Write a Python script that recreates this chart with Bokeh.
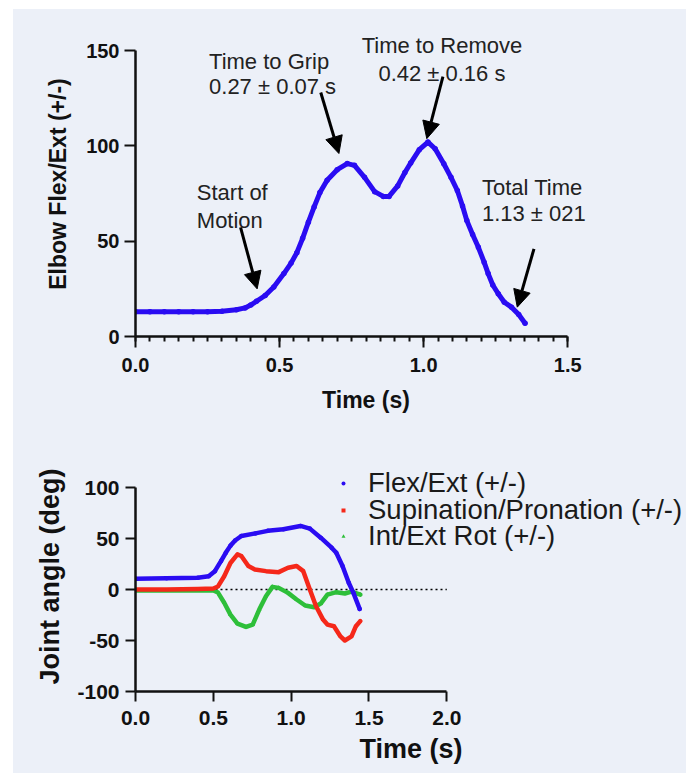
from bokeh.plotting import figure
from bokeh.layouts import column
from bokeh.models import (Range1d, FixedTicker, PrintfTickFormatter, Arrow, NormalHead,
                          Label, Legend, LegendItem)
from bokeh.embed import file_html
from bokeh.resources import INLINE

BG = "#ecf0f8"
FONT = "Liberation Sans"
INK = "#111111"

# ---------------- data: top panel (elbow flex/ext, deg) ----------------
elbow_time = [0.00, 0.05, 0.10, 0.15, 0.20, 0.25, 0.30, 0.35, 0.38, 0.40, 0.42, 0.45, 0.48,
              0.515, 0.54, 0.56, 0.58, 0.60, 0.62, 0.64, 0.665, 0.70, 0.735, 0.76, 0.795,
              0.83, 0.86, 0.88, 0.91, 0.935, 0.955, 0.985, 1.015, 1.04, 1.07, 1.095, 1.117,
              1.135, 1.15, 1.17, 1.19, 1.21, 1.224, 1.24, 1.259, 1.28, 1.305, 1.33, 1.352]
elbow_angle = [13, 13, 13, 13, 13, 13, 13.3, 14, 15, 16.5, 18.5, 21.5, 26,
               33, 38.5, 44, 51.5, 60, 68, 75.5, 82, 87.5, 90.7, 89.8, 83.5,
               76, 73.5, 73.5, 79, 86, 91, 98, 102, 98.5, 90.6, 83.5, 76.6,
               68.5, 60.8, 53.5, 46.8, 39, 33, 27, 22.4, 18, 15.4, 11.5, 7]
top_x_ticks = [0.0, 0.5, 1.0, 1.5]
top_y_ticks = [0, 50, 100, 150]

# annotation texts
ann_grip = ["Time to Grip", "0.27 \u00b1 0.07 s"]
ann_remove = ["Time to Remove", "0.42 \u00b1 0.16 s"]
ann_start = ["Start of", "Motion"]
ann_total = ["Total Time", "1.13 \u00b1 021"]

# ---------------- data: bottom panel (joint angles, deg) ----------------
flex_time = [0.0, 0.2, 0.4, 0.47, 0.51, 0.55, 0.58, 0.61, 0.64, 0.68, 0.77, 0.85, 0.95,
             1.06, 1.12, 1.19, 1.26, 1.29, 1.33, 1.37, 1.40, 1.44]
flex_angle = [10.5, 11, 11.5, 13, 18, 28, 36, 43, 48, 52.5, 55, 57.5, 59,
              62.3, 59.7, 50.8, 41, 36, 23, 6.6, -3.3, -19]
sup_time = [0.0, 0.2, 0.4, 0.5, 0.53, 0.57, 0.61, 0.655, 0.68, 0.725, 0.767, 0.838, 0.92,
            0.98, 1.035, 1.078, 1.12, 1.16, 1.205, 1.233, 1.275, 1.317, 1.345, 1.388,
            1.416, 1.444]
sup_angle = [0, 0, 0.5, 1, 3, 13, 26, 34.4, 32.8, 23, 19.7, 18, 17,
             21.3, 23, 18, 0, -16.4, -29.5, -34.4, -36, -46, -50, -46,
             -36, -31]
rot_time = [0.0, 0.2, 0.4, 0.5, 0.53, 0.57, 0.61, 0.655, 0.71, 0.753, 0.795, 0.838, 0.88,
            0.92, 0.98, 1.035, 1.09, 1.148, 1.19, 1.233, 1.29, 1.345, 1.388, 1.444]
rot_angle = [-1, -1, -1, -1, -3, -13, -24.6, -33.4, -36.7, -34.4, -19.7, -6.6, 2.6,
             1.6, -3.3, -9.8, -15.7, -17.4, -13.8, -5, -2.6, -3.9, -2, -5]
series_names = ["Flex/Ext (+/-)", "Supination/Pronation (+/-)", "Int/Ext Rot (+/-)"]
zero_line_x = [0.0, 2.0]
zero_line_y = [0.0, 0.0]
bot_x_ticks = [0.0, 0.5, 1.0, 1.5, 2.0]
bot_y_ticks = [-100, -50, 0, 50, 100]

BLUE = "#2a0cf2"
RED = "#f5281a"
GREEN = "#2ebf3a"

TOTAL_W = 673
TOP_LEFT = 112
BOT_LEFT = 122


def style_axis(ax, tick_size, label_size, tick_out, label_standoff, axis_standoff):
    ax.axis_line_width = 2.5
    ax.axis_line_color = INK
    ax.major_tick_line_width = 2
    ax.major_tick_line_color = INK
    ax.major_tick_in = 0
    ax.major_tick_out = tick_out
    ax.minor_tick_line_color = None
    ax.major_label_text_font = FONT
    ax.major_label_text_font_style = "bold"
    ax.major_label_text_font_size = tick_size
    ax.major_label_text_color = INK
    ax.major_label_standoff = label_standoff
    ax.axis_label_text_font = FONT
    ax.axis_label_text_font_style = "bold"
    ax.axis_label_text_font_size = label_size
    ax.axis_label_text_color = INK
    ax.axis_label_standoff = axis_standoff


# ---------------- top figure ----------------
p1 = figure(frame_width=461, frame_height=305,
            x_range=Range1d(0, 1.6), y_range=Range1d(0, 160),
            min_border_left=TOP_LEFT, min_border_right=TOTAL_W - TOP_LEFT - 461,
            min_border_top=22, min_border_bottom=84,
            output_backend="svg", toolbar_location=None,
            background_fill_color=BG, border_fill_color=BG, outline_line_color=None)
p1.grid.visible = False
p1.xaxis.axis_label = "Time (s)"
p1.yaxis.axis_label = "Elbow Flex/Ext (+/-)"
style_axis(p1.xaxis[0], "20px", "23px", 11, 10, 12)
style_axis(p1.yaxis[0], "20px", "23px", 11, 5, 12)
p1.xaxis.bounds = (0, 1.5)
p1.yaxis.bounds = (0, 150)
p1.xaxis.ticker = FixedTicker(ticks=top_x_ticks,
                              minor_ticks=[round(0.05 * i, 2) for i in range(31)])
p1.xaxis.minor_tick_line_color = INK
p1.xaxis.minor_tick_line_width = 2
p1.xaxis.minor_tick_in = 0
p1.xaxis.minor_tick_out = 5
p1.yaxis.ticker = FixedTicker(ticks=top_y_ticks)
p1.xaxis.formatter = PrintfTickFormatter(format="%.1f")
p1.yaxis.formatter = PrintfTickFormatter(format="%d")

p1.line(elbow_time, elbow_angle, line_color=BLUE, line_width=5, line_join="round", line_cap="round")
p1.scatter(elbow_time, elbow_angle, marker="circle", size=5.5, fill_color=BLUE, line_color=None)

head = dict(size=17, fill_color="black", line_color="black")
for (xs, ys, xe, ye) in [(0.643, 128.0, 0.706, 96.0), (1.067, 136.3, 1.011, 103.8),
                         (0.3646, 57.3, 0.4222, 25.0), (1.383, 46.0, 1.325, 15.4)]:
    p1.add_layout(Arrow(end=NormalHead(**head), x_start=xs, y_start=ys, x_end=xe, y_end=ye,
                        line_width=3, line_color="black"))


def add_text(p, x, y, txt, align):
    p.add_layout(Label(x=x, y=y, text=txt, text_font=FONT, text_font_size="22px",
                       text_color="#222222", text_align=align, text_baseline="middle"))


add_text(p1, 0.2552, 144.3, ann_grip[0], "left")
add_text(p1, 0.2552, 130.9, ann_grip[1], "left")
add_text(p1, 1.0635, 152.6, ann_remove[0], "center")
add_text(p1, 1.0635, 138.1, ann_remove[1], "center")
add_text(p1, 0.2128, 75.7, ann_start[0], "left")
add_text(p1, 0.2128, 61.0, ann_start[1], "left")
add_text(p1, 1.2024, 78.3, ann_total[0], "left")
add_text(p1, 1.2024, 64.3, ann_total[1], "left")

# ---------------- bottom figure ----------------
fw2 = TOTAL_W - BOT_LEFT
p2 = figure(frame_width=fw2, frame_height=230,
            x_range=Range1d(0, fw2 / 155.65), y_range=Range1d(-100, -100 + 230 / 1.02),
            min_border_left=BOT_LEFT, min_border_right=0, min_border_top=41, min_border_bottom=82,
            output_backend="svg", toolbar_location=None,
            background_fill_color=BG, border_fill_color=BG, outline_line_color=None)
p2.grid.visible = False
p2.xaxis.axis_label = "Time (s)"
p2.yaxis.axis_label = "Joint angle (deg)"
style_axis(p2.xaxis[0], "21px", "27px", 10, 9, 6)
style_axis(p2.yaxis[0], "21px", "27px", 10, 6, 9)
p2.xaxis.bounds = (0, 2.0)
p2.yaxis.bounds = (-100, 100)
p2.xaxis.ticker = FixedTicker(ticks=bot_x_ticks)
p2.yaxis.ticker = FixedTicker(ticks=bot_y_ticks)
p2.xaxis.formatter = PrintfTickFormatter(format="%.1f")
p2.yaxis.formatter = PrintfTickFormatter(format="%d")

p2.line(zero_line_x, zero_line_y, line_color="black", line_width=1.5, line_dash="2 3")

lw = 4.5
p2.line(rot_time, rot_angle, line_color=GREEN, line_width=lw, line_join="round", line_cap="round")
r_rot = p2.scatter(rot_time, rot_angle, marker="triangle", size=lw, fill_color=GREEN, line_color=None)
p2.line(flex_time, flex_angle, line_color=BLUE, line_width=lw, line_join="round", line_cap="round")
r_flex = p2.scatter(flex_time, flex_angle, marker="circle", size=lw, fill_color=BLUE, line_color=None)
p2.line(sup_time, sup_angle, line_color=RED, line_width=lw, line_join="round", line_cap="round")
r_sup = p2.scatter(sup_time, sup_angle, marker="square", size=lw - 1.5, fill_color=RED, line_color=None)

# one legend per entry so the row pitch can match the reference
for name, rend, vy in [(series_names[0], r_flex, 192), (series_names[1], r_sup, 165),
                       (series_names[2], r_rot, 139)]:
    lg = Legend(items=[LegendItem(label=name, renderers=[rend])],
                location=(203, vy), padding=0, spacing=0, margin=0,
                glyph_width=10, glyph_height=20, label_standoff=20,
                label_text_font=FONT, label_text_font_size="27.5px", label_text_color="#1a1a1a",
                label_height=20,
                background_fill_alpha=0, border_line_color=None)
    p2.add_layout(lg)

layout = column(p1, p2, margin=(9, 0, 0, 13), styles={"background-color": BG})

open("out.html", "w").write(file_html(layout, INLINE))
